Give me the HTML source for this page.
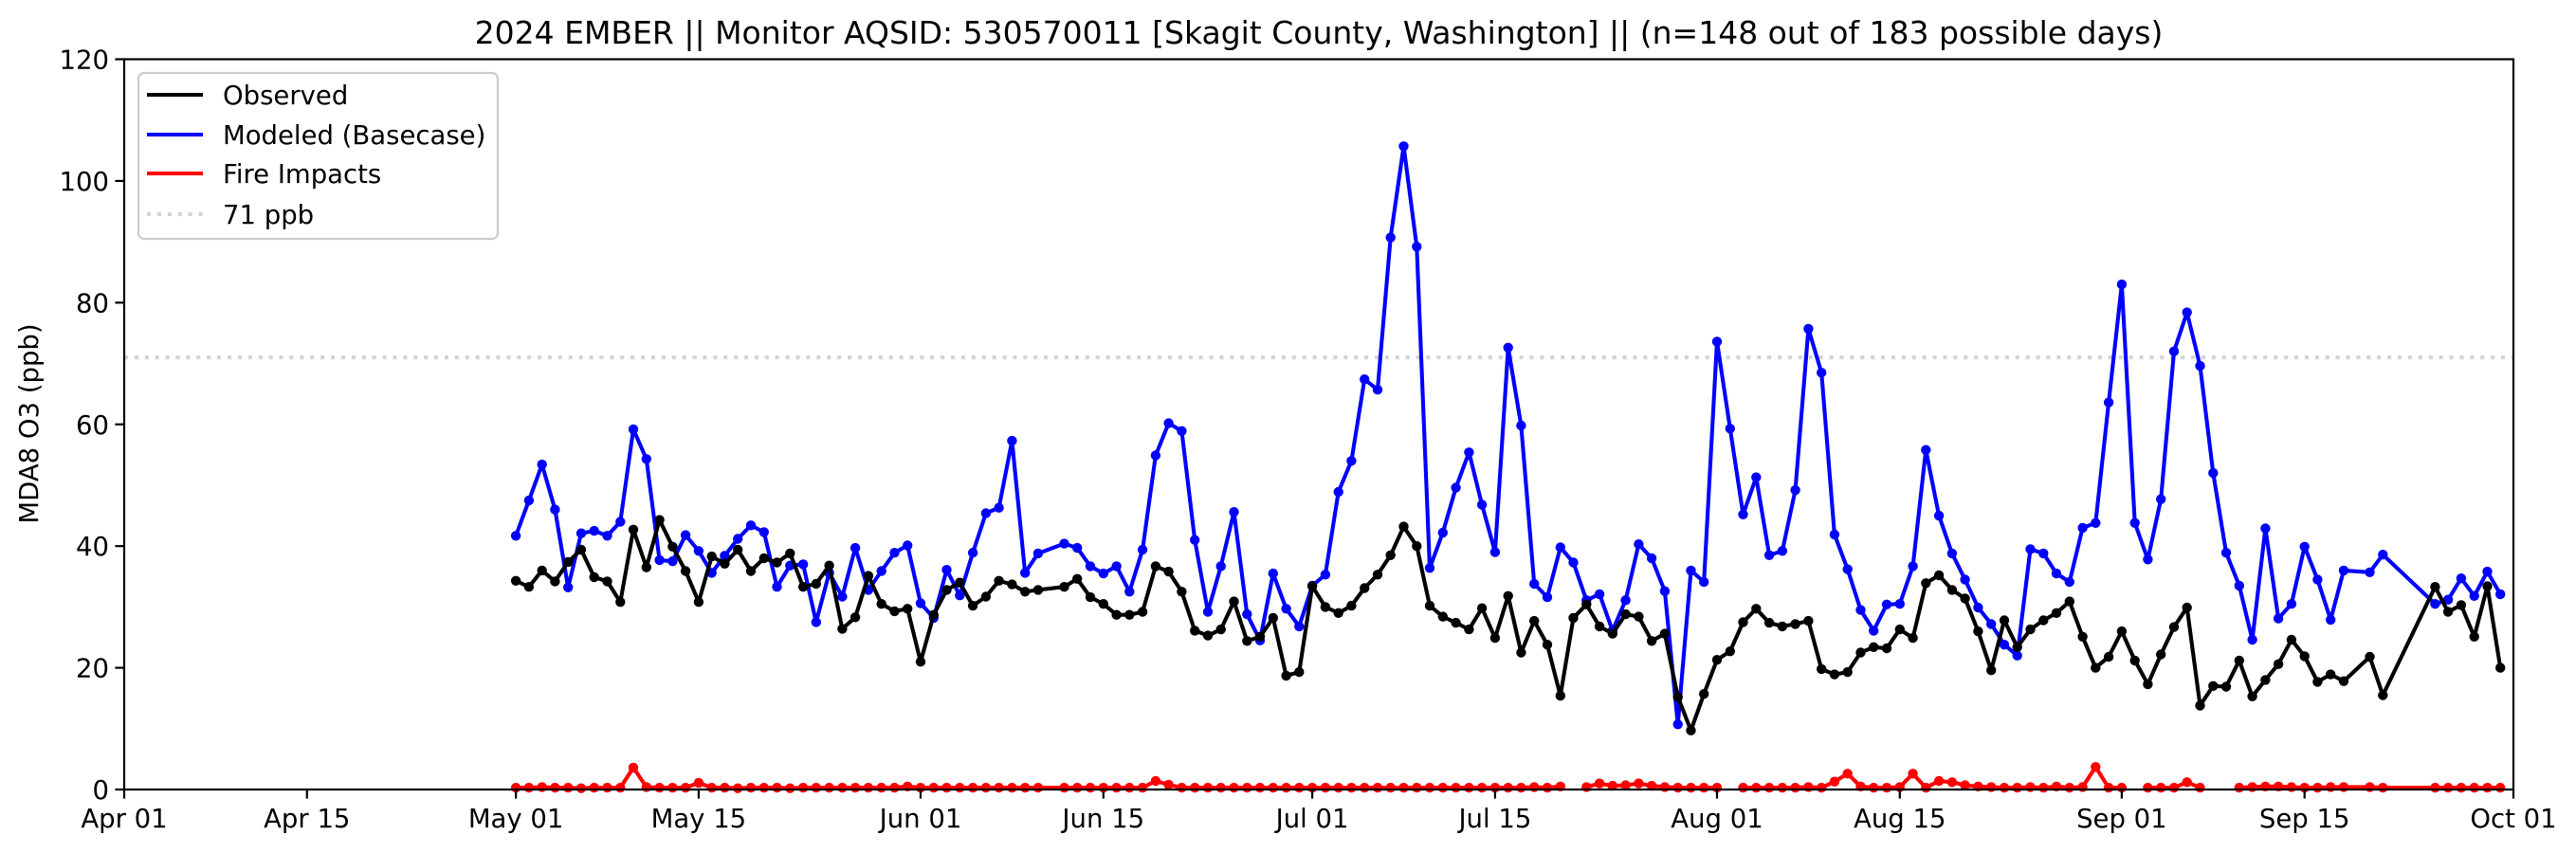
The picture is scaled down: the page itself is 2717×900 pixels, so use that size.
<!DOCTYPE html>
<html><head><meta charset="utf-8"><title>2024 EMBER MDA8 O3</title>
<style>
html,body{margin:0;padding:0;background:#fff;}
svg{display:block;}
text{font-family:"DejaVu Sans","Liberation Sans",sans-serif;fill:#000;}
</style></head>
<body>
<svg id="chart" width="2717" height="900" viewBox="0 0 2717 900" xmlns="http://www.w3.org/2000/svg">
  <rect x="0" y="0" width="2717" height="900" fill="#fff"/>
  <text x="1391" y="46" font-size="33" text-anchor="middle">2024 EMBER || Monitor AQSID: 530570011 [Skagit County, Washington] || (n=148 out of 183 possible days)</text>
  <text transform="translate(40,447) rotate(-90)" font-size="27.5" text-anchor="middle">MDA8 O3 (ppb)</text>
  <g id="grid"></g>
  <g id="series"></g>
  <g id="axes"></g>
  <g id="legend">
    <rect x="146" y="77" width="379" height="175" rx="6" fill="#fff" fill-opacity="0.8" stroke="#cccccc" stroke-width="2.2"/>
    <line x1="155" y1="100" x2="214" y2="100" stroke="#000" stroke-width="4.1"/>
    <text x="235" y="110" font-size="27.5">Observed</text>
    <line x1="155" y1="142" x2="214" y2="142" stroke="#0000ff" stroke-width="4.1"/>
    <text x="235" y="152" font-size="27.5">Modeled (Basecase)</text>
    <line x1="155" y1="183" x2="214" y2="183" stroke="#ff0000" stroke-width="4.1"/>
    <text x="235" y="193" font-size="27.5">Fire Impacts</text>
    <line x1="155" y1="226" x2="214" y2="226" stroke="#d3d3d3" stroke-width="4.1" stroke-dasharray="4.1 6.8"/>
    <text x="235" y="236" font-size="27.5">71 ppb</text>
  </g>
</svg>
<script>
// Day offsets from Apr 01 2024
const days = [30,31,32,33,34,35,36,37,38,39,40,41,42,43,44,45,46,47,48,49,50,51,52,53,54,55,56,57,58,59,60,61,62,63,64,65,66,67,68,69,70,
72,73,74,75,76,77,78,79,80,81,82,83,84,85,86,87,88,89,90,91,92,93,94,95,96,97,98,99,100,101,102,103,104,105,106,107,108,109,110,111,112,113,114,115,116,117,118,119,120,121,122,123,124,125,126,127,128,129,130,131,132,133,134,135,136,137,138,139,140,141,142,143,144,145,146,147,148,149,150,151,152,153,154,155,156,157,158,159,160,161,162,163,164,165,166,167,168,169,170,
172,173,177,178,179,180,181,182];
const observed = [34.3,33.3,36,34.2,37.4,39.4,34.9,34.2,30.8,42.7,36.5,44.3,39.9,35.9,30.8,38.3,37.1,39.4,35.9,38,37.3,38.8,33.3,33.8,36.8,26.4,28.3,35.1,30.5,29.3,29.7,21,28.7,32.8,34,30.2,31.7,34.3,33.7,32.5,32.8,
33.3,34.6,31.6,30.5,28.7,28.7,29.2,36.7,35.8,32.5,26.1,25.3,26.3,30.9,24.4,25.1,28.2,18.7,19.3,33.4,30,29,30.2,33.1,35.3,38.5,43.2,40,30.2,28.4,27.4,26.3,29.8,24.9,31.8,22.5,27.7,23.8,15.4,28.2,30.4,26.8,25.6,28.8,28.4,24.4,25.6,15.2,9.7,15.7,21.3,22.7,27.5,29.7,27.4,26.8,27.2,27.7,19.8,18.9,19.3,22.5,23.4,23.2,26.3,24.9,33.9,35.2,32.8,31.4,26,19.6,27.8,23.4,26.3,27.8,29,30.9,25.1,20,21.8,26,21.2,17.3,22.2,26.7,29.9,13.8,17,16.9,21.2,15.3,18,20.6,24.6,21.9,17.7,18.9,17.8,
21.8,15.5,33.3,29.2,30.3,25.1,33.4,20];
const modeled = [41.7,47.5,53.4,46,33.2,42.1,42.5,41.7,44,59.2,54.3,37.7,37.5,41.8,39.2,35.6,38.4,41.2,43.4,42.3,33.3,36.8,37,27.5,35.6,31.7,39.7,32.8,35.9,38.9,40.1,30.6,28.2,36.1,31.9,38.9,45.4,46.3,57.3,35.6,38.8,
40.4,39.7,36.7,35.5,36.7,32.5,39.4,54.9,60.2,58.9,41,29.2,36.7,45.6,28.8,24.5,35.5,29.7,26.8,33.5,35.3,48.9,54,67.4,65.7,90.7,105.7,89.2,36.4,42.2,49.6,55.4,46.8,39,72.6,59.8,33.8,31.6,39.8,37.3,31.1,32.1,26.1,31.1,40.3,38,32.6,10.7,36,34.1,73.6,59.3,45.2,51.3,38.5,39.2,49.2,75.7,68.5,41.9,36.2,29.5,26.1,30.4,30.5,36.7,55.8,45,38.8,34.5,29.9,27.2,23.8,22,39.5,38.8,35.5,34.1,43,43.8,63.6,83,43.8,37.8,47.7,72,78.4,69.6,52,38.9,33.5,24.6,42.9,28.1,30.5,39.9,34.5,27.9,36,
35.7,38.6,30.5,31.2,34.7,31.8,35.8,32.1];
const fire = [0.3,0.3,0.4,0.3,0.3,0.2,0.3,0.3,0.3,3.6,0.4,0.3,0.3,0.3,1.1,0.3,0.3,0.2,0.3,0.3,0.3,0.2,0.3,0.3,0.3,0.3,0.3,0.3,0.3,0.3,0.5,0.3,0.3,0.3,0.3,0.3,0.3,0.3,0.3,0.3,0.3,
0.3,0.3,0.3,0.3,0.3,0.3,0.3,1.4,0.8,0.3,0.3,0.3,0.3,0.3,0.3,0.3,0.3,0.3,0.3,0.3,0.3,0.3,0.3,0.3,0.3,0.3,0.3,0.3,0.3,0.3,0.3,0.3,0.3,0.3,0.3,0.3,0.4,0.3,0.5,null,0.4,1.0,0.6,0.7,1.0,0.6,0.4,0.3,0.3,0.3,0.3,null,0.3,0.3,0.3,0.3,0.3,0.4,0.3,1.3,2.6,0.5,0.3,0.3,0.4,2.6,0.3,1.4,1.2,0.7,0.5,0.4,0.3,0.3,0.4,0.3,0.5,0.3,0.4,3.7,0.3,0.3,null,0.3,0.3,0.3,1.2,0.3,null,null,0.3,0.4,0.5,0.5,0.4,0.3,0.3,0.4,0.4,0.4,
0.3,0.3,0.3,0.3,0.3,0.3,0.3,0.9];
const yTicks = [0,20,40,60,80,100,120];
const xTickDays = [0,14,30,44,61,75,91,105,122,136,153,167,183];
const xTickLabels = ["Apr 01","Apr 15","May 01","May 15","Jun 01","Jun 15","Jul 01","Jul 15","Aug 01","Aug 15","Sep 01","Sep 15","Oct 01"];
const threshold = 71;

const NS = "http://www.w3.org/2000/svg";
const L = 131, R = 2651, T = 62.5, B = 833;
const xMax = 183, yMax = 120;
function xs(d){ return L + (R - L) * d / xMax; }
function ys(v){ return B - (B - T) * v / yMax; }
function mk(tag, attrs, parent){
  const e = document.createElementNS(NS, tag);
  for (const k in attrs) e.setAttribute(k, attrs[k]);
  parent.appendChild(e);
  return e;
}
const grid = document.getElementById('grid');
const series = document.getElementById('series');
const axes = document.getElementById('axes');

// threshold line
const th = mk('line', {x1:L, x2:R, y1:ys(threshold), y2:ys(threshold), stroke:'#d3d3d3', 'stroke-width':4.1, 'stroke-dasharray':'4.1 6.8'}, grid);



function drawSeries(vals, color, name, breakOnNull){
  const g = mk('g', {}, series);
  
  
  let segs = [], cur = [];
  for (let i = 0; i < days.length; i++){
    const v = vals[i];
    if (v === null || v === undefined){ if (breakOnNull && cur.length){ segs.push(cur); cur = []; } continue; }
    cur.push([xs(days[i]), ys(v)]);
  }
  if (cur.length) segs.push(cur);
  segs.forEach(s => {
    if (s.length > 1){
      const p = mk('polyline', {points: s.map(q => q[0].toFixed(1) + ',' + q[1].toFixed(1)).join(' '), fill:'none', stroke:color, 'stroke-width':4.1, 'stroke-linejoin':'round'}, g);
      
      
    }
  });
  for (let i = 0; i < days.length; i++){
    const v = vals[i];
    if (v === null || v === undefined) continue;
    const c = mk('circle', {cx:xs(days[i]).toFixed(1), cy:ys(v).toFixed(1), r:5.2, fill:color}, g);
    
    
  }
}
drawSeries(fire, '#ff0000', 'fire-impacts', true);
drawSeries(modeled, '#0000ff', 'modeled', true);
drawSeries(observed, '#000000', 'observed', true);

// frame
const fr = mk('rect', {x:L, y:T, width:R-L, height:B-T, fill:'none', stroke:'#000', 'stroke-width':2.2}, axes);



yTicks.forEach(v => {
  const t = mk('line', {x1:L-9.6, x2:L, y1:ys(v), y2:ys(v), stroke:'#000', 'stroke-width':2.2}, axes);
  
  
  const tx = mk('text', {x:L-16, y:ys(v)+10, 'font-size':27.5, 'text-anchor':'end'}, axes);
  tx.textContent = String(v);
  
  
});
xTickDays.forEach((d, i) => {
  const t = mk('line', {x1:xs(d), x2:xs(d), y1:B, y2:B+9.6, stroke:'#000', 'stroke-width':2.2}, axes);
  
  
  const tx = mk('text', {x:xs(d), y:B+40, 'font-size':27.5, 'text-anchor':'middle'}, axes);
  tx.textContent = xTickLabels[i];
  
  
});
</script>
</body></html>
